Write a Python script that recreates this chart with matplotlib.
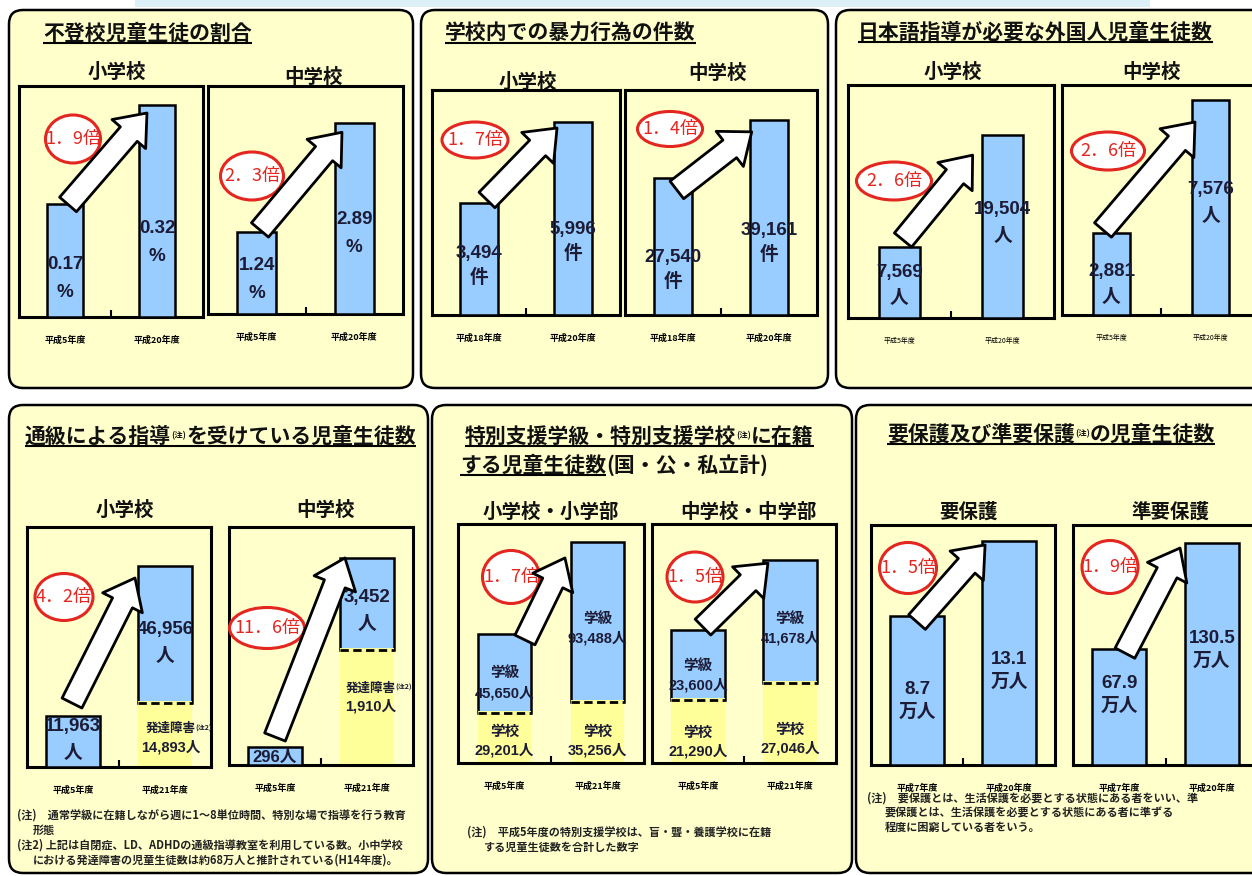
import matplotlib
matplotlib.use('Agg')
import matplotlib.pyplot as plt
from matplotlib.patches import FancyBboxPatch, Ellipse, Rectangle, ArrowStyle

# ---------------- data ----------------
absent_years = ['平成5年度', '平成20年度']
absent_elem = [0.17, 0.32]          # %
absent_junior = [1.24, 2.89]        # %
absent_ratio = ['1．9倍', '2．3倍']

violence_years = ['平成18年度', '平成20年度']
violence_elem = [3494, 5996]        # 件
violence_junior = [27540, 39161]    # 件
violence_ratio = ['1．7倍', '1．4倍']

jsl_years = ['平成5年度', '平成20年度']
jsl_elem = [7569, 19504]            # 人
jsl_junior = [2881, 7576]           # 人
jsl_ratio = ['2．6倍', '2．6倍']

tsukyu_years = ['平成5年度', '平成21年度']
tsukyu_elem = [11963, 46956]        # 人 (total)
tsukyu_elem_dd = [0, 14893]         # 発達障害 portion
tsukyu_junior = [296, 3452]
tsukyu_junior_dd = [0, 1910]
tsukyu_ratio = ['4．2倍', '11．6倍']

special_years = ['平成5年度', '平成21年度']
special_elem_class = [45650, 93488]     # 特別支援学級
special_elem_school = [29201, 35256]    # 特別支援学校
special_junior_class = [23600, 41678]
special_junior_school = [21290, 27046]
special_ratio = ['1．7倍', '1．5倍']

welfare_years = ['平成7年度', '平成20年度']
welfare_protected = [8.7, 13.1]     # 万人
welfare_quasi = [67.9, 130.5]       # 万人
welfare_ratio = ['1．5倍', '1．9倍']

# ---------------- style ----------------
W, H = 1252, 876
PANEL_BG = '#FFFFCC'
BLUE = '#99CCFF'
YELLOW = '#FFFF99'
RED = '#E3261F'
INK = '#1C1C36'
JP = ['Noto Sans CJK JP', 'DejaVu Sans']
NUM = ['Liberation Sans', 'Noto Sans CJK JP', 'DejaVu Sans']

fig = plt.figure(figsize=(W / 100, H / 100), dpi=100)
fig.patch.set_facecolor('white')
bg = fig.add_axes([0, 0, 1, 1], zorder=0)
bg.set_xlim(0, W)
bg.set_ylim(H, 0)
bg.axis('off')
renderer = fig.canvas.get_renderer()

bg.add_patch(Rectangle((135, 0), 1015, 7, facecolor='#DDEFF7', edgecolor='none'))

panels = [(9, 10, 413, 388), (421, 10, 828, 388), (836, 10, 1270, 388),
          (9, 405, 428, 873), (432, 405, 852, 873), (856, 405, 1270, 873)]
for x0, y0, x1, y1 in panels:
    bg.add_patch(FancyBboxPatch((x0, y0), x1 - x0, y1 - y0,
                                boxstyle='round,pad=0,rounding_size=14',
                                facecolor=PANEL_BG, edgecolor='black', linewidth=1.8))


def heading(x, y, pieces, n_under):
    cur = x
    ends = []
    for s, size in pieces:
        small = size < 10
        t = bg.text(cur, y - (5 if small else 0), s, fontsize=size, fontweight='bold',
                    family=JP, ha='left', va='baseline', color='#111111')
        bb = t.get_window_extent(renderer)
        cur = bg.transData.inverted().transform((bb.x1, bb.y0))[0]
        ends.append(cur)
    bg.plot([x, ends[n_under - 1]], [y + 3, y + 3], color='black', lw=1.5,
            solid_capstyle='butt')


heading(43, 40, [('不登校児童生徒の割合', 15)], 1)
heading(445, 40, [('学校内での暴力行為の件数', 15)], 1)
heading(858, 39, [('日本語指導が必要な外国人児童生徒数', 15)], 1)
heading(25, 443, [('通級による指導', 15), ('(注)', 6), ('を受けている児童生徒数', 15)], 3)
heading(465, 443, [('特別支援学級・特別支援学校', 15), ('(注)', 6), ('に在籍', 15)], 3)
heading(460, 472, [('する児童生徒数', 15), ('(国・公・私立計)', 15)], 1)
heading(887, 441, [('要保護及び準要保護', 15), ('(注)', 6), ('の児童生徒数', 15)], 3)

subtitles = [(117, 72, '小学校'), (313, 77, '中学校'),
             (528, 82, '小学校'), (718, 73, '中学校'),
             (953, 72, '小学校'), (1152, 72, '中学校'),
             (125, 510, '小学校'), (325, 510, '中学校'),
             (551, 512, '小学校・小学部'), (748, 512, '中学校・中学部'),
             (969, 512, '要保護'), (1170, 512, '準要保護')]
for x, y, s in subtitles:
    bg.text(x, y, s, fontsize=14, fontweight='bold', family=JP, ha='center',
            va='center', color='#111111')

notes = [(17, 815, '(注)　通常学級に在籍しながら週に1～8単位時間、特別な場で指導を行う教育'),
         (33, 830, '形態'),
         (17, 845, '(注2) 上記は自閉症、LD、ADHDの通級指導教室を利用している数。小中学校'),
         (33, 860, 'における発達障害の児童生徒数は約68万人と推計されている(H14年度)。'),
         (467, 832, '(注)　平成5年度の特別支援学校は、盲・聾・養護学校に在籍'),
         (483, 847, 'する児童生徒数を合計した数字'),
         (867, 798, '(注)　要保護とは、生活保護を必要とする状態にある者をいい、準'),
         (885, 813, '要保護とは、生活保護を必要とする状態にある者に準ずる'),
         (885, 827, '程度に困窮している者をいう。')]
for x, y, s in notes:
    bg.text(x, y, s, fontsize=8, fontweight='bold', family=JP, ha='left',
            va='center', color='#222222')


def stacked_label(ax, x, y, lines, gap, mark=None):
    n = len(lines)
    for k, (s, fs) in enumerate(lines):
        off = (n - 1) / 2 * gap - k * gap
        t = ax.annotate(s, xy=(x, y), xytext=(0, off), textcoords='offset points',
                        ha='center', va='center', fontsize=fs, fontweight='bold',
                        family=NUM, color=INK, zorder=6, annotation_clip=False)
        if mark and k == 0:
            ax.annotate(mark, xy=(1, 0.6), xycoords=t, ha='left', va='center',
                        fontsize=5, fontweight='bold', family=JP, color=INK, zorder=6)


def chart(rect, years, totals, lower, blue_lines, yellow_lines, ratio, lay):
    x0, y0, x1, y1 = rect
    aw, ah = x1 - x0, y1 - y0
    ax = fig.add_axes([x0 / W, 1 - y1 / H, aw / W, ah / H], zorder=2)
    ax.set_facecolor(PANEL_BG)
    xs = [0, 1]
    w = lay['width']
    ymax = max(totals) / lay['head']
    ax.set_xlim(-0.5, 1.5)
    ax.set_ylim(0, ymax)
    base = lower if lower is not None else [0, 0]
    if lower is not None:
        ax.bar(xs, lower, w, color=YELLOW, edgecolor='none', zorder=2)
    ax.bar(xs, [t - b for t, b in zip(totals, base)], w, bottom=base, color=BLUE,
           edgecolor='black', linewidth=1.8, zorder=3)
    for xi, b in zip(xs, base):
        if b > 0:
            ax.hlines(b, xi - w / 2, xi + w / 2, colors=YELLOW, linewidth=2.8, zorder=4)
            ax.hlines(b, xi - w / 2, xi + w / 2, colors='black', linewidth=2.0,
                      linestyles=(0, (3, 1.6)), zorder=5)

    gap = lay.get('gap', 19)
    for i, (xi, t, b) in enumerate(zip(xs, totals, base)):
        yl = b + lay['lab'][i] * (t - b)
        stacked_label(ax, xi, yl, blue_lines[i], gap)
        if yellow_lines is not None and b > 0:
            stacked_label(ax, xi + lay.get('ydx', 0), lay['ylab'][i] * b,
                          yellow_lines[i], lay.get('ygap', 14), lay.get('mark'))

    cx, cy, ew, eh = lay['ell']
    ecx, ecy = (cx - x0) / aw, (y1 - cy) / ah
    ax.add_patch(Ellipse((ecx, ecy), ew / aw, eh / ah, transform=ax.transAxes,
                         facecolor='white', edgecolor=RED, linewidth=2.2,
                         zorder=7, clip_on=False))
    ax.text(ecx, ecy, ratio, transform=ax.transAxes, ha='center', va='center',
            fontsize=13, color=RED, family=JP, zorder=8)

    tx, tdy, hx, hdy = lay['arrow']
    ax.annotate('', xy=(hx, totals[1] + hdy * ymax), xytext=(tx, totals[0] + tdy * ymax),
                arrowprops=dict(arrowstyle=ArrowStyle.Simple(head_length=1.0,
                                                             head_width=1.6,
                                                             tail_width=0.8),
                                mutation_scale=20, facecolor='white',
                                edgecolor='black', linewidth=2.0,
                                shrinkA=0, shrinkB=0),
                zorder=9, annotation_clip=False)

    ax.set_xticks(xs)
    ax.set_xticklabels(years, fontsize=lay.get('tick_fs', 6.5),
                       fontweight=lay.get('tick_w', 'bold'), family=JP)
    ax.tick_params(axis='x', which='major', length=0, pad=lay.get('tick_pad', 13))
    ax.set_xticks([0.5], minor=True)
    ax.tick_params(axis='x', which='minor', direction='in', length=5, width=1.5,
                   color='black')
    ax.set_yticks([])
    for s in ax.spines.values():
        s.set_linewidth(2.2)
        s.set_color('black')
    return ax


def two(v, unit, fs=13.5):
    return [(v, fs), (unit, fs)]


# 不登校児童生徒の割合
chart((19, 86, 203, 317), absent_years, absent_elem, None,
      [two(f'{v:.2f}', '%') for v in absent_elem], None, absent_ratio[0],
      dict(width=0.39, head=0.917, lab=[0.34, 0.35], gap=20,
           ell=(73, 139, 55, 48), arrow=(0.033, 0.0, 0.891, -0.034)))
chart((208, 86, 403, 314), absent_years, absent_junior, None,
      [two(f'{v:.2f}', '%') for v in absent_junior], None, absent_ratio[1],
      dict(width=0.40, head=0.838, lab=[0.42, 0.42], gap=20,
           ell=(252, 176, 63, 48), arrow=(0.033, 0.009, 0.874, -0.041)))

# 学校内での暴力行為の件数
chart((432, 90, 620, 315), violence_years, violence_elem, None,
      [two(f'{v:,}', '件') for v in violence_elem], None, violence_ratio[0],
      dict(width=0.40, head=0.858, lab=[0.44, 0.38], gap=18,
           ell=(475, 140, 66, 36), arrow=(0.085, 0.011, 0.83, -0.027)))
chart((625, 90, 817, 315), violence_years, violence_junior, None,
      [two(f'{v:,}', '件') for v in violence_junior], None, violence_ratio[1],
      dict(width=0.40, head=0.867, lab=[0.33, 0.37], gap=18,
           ell=(670, 129, 65, 35), arrow=(0.04, -0.054, 0.82, -0.053)))

# 日本語指導が必要な外国人児童生徒数
chart((848, 85, 1054, 318), jsl_years, jsl_elem, None,
      [two(f'{v:,}', '人') for v in jsl_elem], None, jsl_ratio[0],
      dict(width=0.39, head=0.785, lab=[0.46, 0.52], gap=19,
           ell=(894, 181, 75, 38), arrow=(0.034, 0.03, 0.71, -0.086),
           tick_fs=5, tick_w='normal', tick_pad=14))
chart((1062, 85, 1260, 315), jsl_years, jsl_junior, None,
      [two(f'{v:,}', '人') for v in jsl_junior], None, jsl_ratio[1],
      dict(width=0.38, head=0.935, lab=[0.37, 0.52], gap=19,
           ell=(1108, 151, 73, 38), arrow=(-0.086, 0.014, 0.843, -0.096),
           tick_fs=5, tick_w='normal', tick_pad=14))

# 通級による指導を受けている児童生徒数
dd_lines = lambda vals: [[('発達障害', 9), (f'{v:,}人', 10.5)] for v in vals]
chart((27, 527, 211, 767), tsukyu_years, tsukyu_elem, tsukyu_elem_dd,
      [two(f'{v:,}', '人') for v in tsukyu_elem], dd_lines(tsukyu_elem_dd),
      tsukyu_ratio[0],
      dict(width=0.58, head=0.8375, lab=[0.53, 0.44], gap=19.5,
           ylab=[0, 0.45], ygap=13, ydx=0.06, mark='(注2)',
           ell=(64, 597, 58, 47), arrow=(-0.011, 0.053, 0.674, -0.05)))
chart((229, 527, 413, 765), tsukyu_years, tsukyu_junior, tsukyu_junior_dd,
      [[(f'{tsukyu_junior[0]:,}人', 12)], two(f'{tsukyu_junior[1]:,}', '人')],
      dd_lines(tsukyu_junior_dd), tsukyu_ratio[1],
      dict(width=0.58, head=0.87, lab=[0.45, 0.43], gap=19.5,
           ylab=[0, 0.59], ygap=13, ydx=0.04, mark='(注2)',
           ell=(267, 628, 75, 41), arrow=(0.0, 0.043, 0.76, 0.0)))

# 特別支援学級・特別支援学校に在籍する児童生徒数
elem_tot = [c + s for c, s in zip(special_elem_class, special_elem_school)]
jun_tot = [c + s for c, s in zip(special_junior_class, special_junior_school)]
cls_lines = lambda vals: [[('学級', 10.5), (f'{v:,}人', 10.5)] for v in vals]
sch_lines = lambda vals: [[('学校', 10.5), (f'{v:,}人', 10.5)] for v in vals]
chart((458, 524, 644, 763), special_years, elem_tot, special_elem_school,
      cls_lines(special_elem_class), sch_lines(special_elem_school), special_ratio[0],
      dict(width=0.58, head=0.925, lab=[0.38, 0.46], gap=14,
           ylab=[0.44, 0.36], ygap=13.5,
           ell=(511, 577, 57, 53), arrow=(0.22, -0.023, 0.65, -0.067)))
chart((652, 524, 836, 763), special_years, jun_tot, special_junior_school,
      cls_lines(special_junior_class), sch_lines(special_junior_school), special_ratio[1],
      dict(width=0.58, head=0.849, lab=[0.35, 0.44], gap=14,
           ylab=[0.33, 0.30], ygap=13.5,
           ell=(695, 577, 56, 50), arrow=(0.054, 0.014, 0.76, -0.013)))

# 要保護及び準要保護の児童生徒数
chart((871, 525, 1055, 765), welfare_years, welfare_protected, None,
      [two(f'{v}', '万人') for v in welfare_protected], None, welfare_ratio[0],
      dict(width=0.58, head=0.933, lab=[0.43, 0.42], gap=16.5,
           ell=(908, 568, 57, 51), arrow=(0.0, -0.024, 0.74, -0.016)))
chart((1073, 525, 1258, 765), welfare_years, welfare_quasi, None,
      [two(f'{v}', '万人') for v in welfare_quasi], None, welfare_ratio[1],
      dict(width=0.58, head=0.925, lab=[0.61, 0.52], gap=16.5,
           ell=(1110, 567, 56, 53), arrow=(0.062, -0.015, 0.657, -0.021)))

fig.savefig('out.png', dpi=100, facecolor=fig.get_facecolor())
